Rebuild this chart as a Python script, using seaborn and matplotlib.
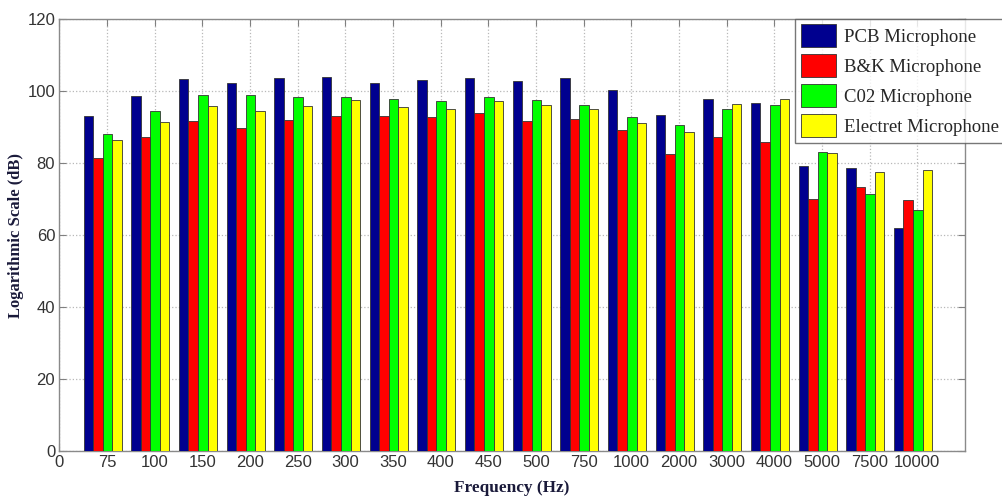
import numpy as np
import pandas as pd
import matplotlib
matplotlib.use("Agg")
import matplotlib.pyplot as plt
import seaborn as sns

frequencies = ["75", "100", "150", "200", "250", "300", "350", "400", "450",
               "500", "750", "1000", "2000", "3000", "4000", "5000", "7500", "10000"]
pcb = [93.1, 98.6, 103.2, 102.3, 103.5, 104.0, 102.3, 103.1, 103.7,
       102.9, 103.5, 100.2, 93.4, 97.7, 96.8, 79.2, 78.7, 62.0]
bk = [81.3, 87.2, 91.8, 89.7, 91.9, 93.1, 93.1, 92.7, 93.8,
      91.8, 92.2, 89.3, 82.5, 87.1, 85.7, 70.0, 73.2, 69.7]
c02 = [88.1, 94.5, 98.9, 98.9, 98.2, 98.2, 97.8, 97.2, 98.2,
       97.5, 96.2, 92.9, 90.5, 95.1, 96.0, 83.1, 71.4, 66.9]
electret = [86.4, 91.5, 95.8, 94.4, 95.8, 97.5, 95.6, 94.9, 97.2,
            96.0, 94.9, 91.1, 88.5, 96.5, 97.8, 82.7, 77.6, 78.1]
series_names = ["PCB Microphone", "B&K Microphone", "C02 Microphone", "Electret Microphone"]
tick_labels = ["0"] + frequencies
y_ticks = [0, 20, 40, 60, 80, 100, 120]

colors = ["#00008F", "#FF0000", "#00FF00", "#FFFF00"]

rows = []
for name, vals in zip(series_names, [pcb, bk, c02, electret]):
    for f, v in zip(frequencies, vals):
        rows.append({"freq": f, "value": v, "mic": name})
df = pd.DataFrame(rows)

sns.set_style("white")
plt.rcParams["font.family"] = ["Liberation Sans", "DejaVu Sans"]

fig = plt.figure(figsize=(10.02, 4.98), dpi=100)
ax = fig.add_axes([0.0592, 0.0944, 0.9038, 0.8674])

sns.barplot(data=df, x="freq", y="value", hue="mic", order=frequencies,
            hue_order=series_names, palette=colors, width=0.8, dodge=True,
            edgecolor="#333333", linewidth=0.6, saturation=1, errorbar=None,
            ax=ax, zorder=3)

off = 0.09
ax.set_xlim(-1 + off, 18 + off)
ax.set_xticks(np.arange(19) - 1 + off)
ax.set_xticklabels(tick_labels)
ax.set_ylim(0, 120)
ax.set_yticks(y_ticks)
ax.set_yticklabels([str(t) for t in y_ticks])

ax.grid(True, linestyle=":", color="#b8b8b8", linewidth=0.9, zorder=0)
ax.set_axisbelow(True)
ax.tick_params(axis="both", direction="in", length=5, color="#808080",
               labelsize=12, labelcolor="#333333", top=True, right=True,
               bottom=True, left=True, pad=3)
for s in ax.spines.values():
    s.set_color("#8a8a8a")
    s.set_linewidth(1.0)

ax.set_xlabel("Frequency (Hz)", family=["Liberation Serif"], fontweight="bold",
              fontsize=12.4, color="#1a1a3a", labelpad=7)
ax.set_ylabel("Logarithmic Scale (dB)", family=["Liberation Serif"], fontweight="bold",
              fontsize=12, color="#1a1a3a", labelpad=2)

handles, labels = ax.get_legend_handles_labels()
leg = fig.legend(handles, labels, loc="upper left",
                 bbox_to_anchor=(795 / 1002, 1 - 18.5 / 498),
                 prop={"family": "Liberation Serif", "size": 13.5},
                 frameon=True, fancybox=False, edgecolor="#555555",
                 handlelength=1.87, handleheight=1.51, labelspacing=0.37,
                 handletextpad=0.45, borderpad=0.3, borderaxespad=0)
leg.get_frame().set_linewidth(1.0)
if ax.get_legend() is not None:
    ax.get_legend().remove()

fig.savefig("out.png", dpi=100)
